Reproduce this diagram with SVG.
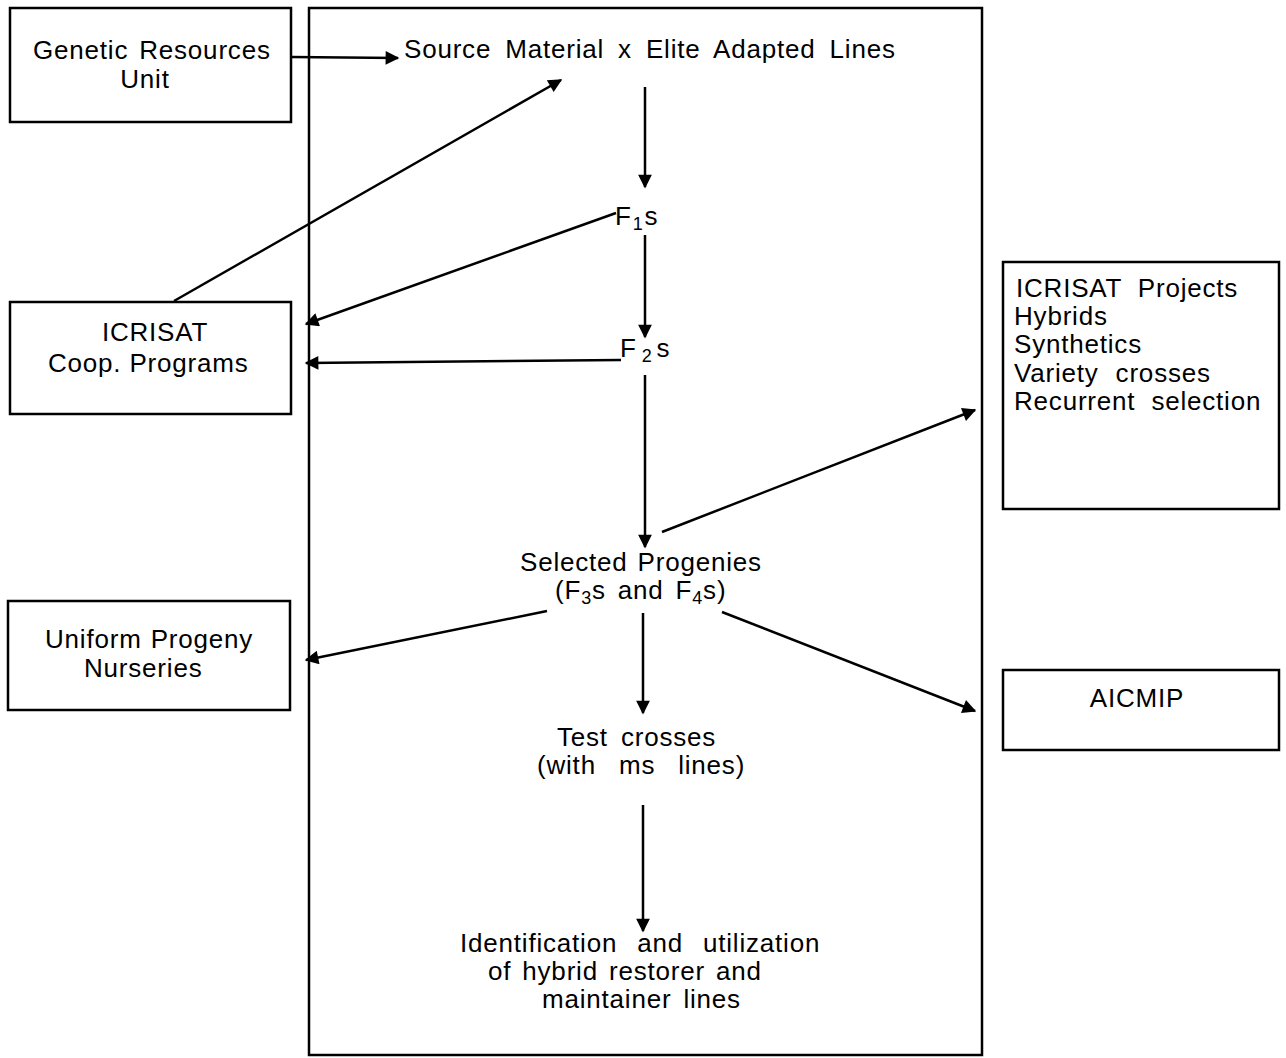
<svg xmlns="http://www.w3.org/2000/svg" width="1286" height="1058" viewBox="0 0 1286 1058">
<style>
.box{fill:none;stroke:#000;stroke-width:2.5}
.ln{fill:none;stroke:#000;stroke-width:2.5;marker-end:url(#ah)}
text{font-family:"Liberation Sans",Arial,sans-serif;font-size:26px;fill:#000;letter-spacing:0.8px}
.c{text-anchor:middle}
.sub{font-size:18px}
</style>
<defs>
<marker id="ah" viewBox="0 0 10 10" refX="9" refY="5" markerWidth="6.5" markerHeight="5.5" markerUnits="strokeWidth" orient="auto">
<path d="M0,0 L10,5 L0,10 Z" fill="#000"/>
</marker>
</defs>
<rect width="1286" height="1058" fill="#fff"/>
<g id="main-frame"><rect class="box" x="309" y="8" width="673" height="1047"/></g>
<g id="genetic"><rect class="box" x="10" y="8" width="281" height="114"/>
<text x="33" y="59" word-spacing="3">Genetic Resources</text><text class="c" x="145" y="88">Unit</text></g>
<g id="coop"><rect class="box" x="10" y="302" width="281" height="112"/>
<text class="c" x="155" y="341" letter-spacing="0" font-size="24">ICRISAT</text><text x="48" y="372">Coop. Programs</text></g>
<g id="uniform"><rect class="box" x="8" y="601" width="282" height="109"/>
<text x="45" y="648" word-spacing="1">Uniform Progeny</text><text x="84" y="677">Nurseries</text></g>
<g id="projects"><rect class="box" x="1003" y="262" width="276" height="247"/>
<text x="1016" y="297" word-spacing="8">ICRISAT Projects</text>
<text x="1014" y="325">Hybrids</text>
<text x="1014" y="353">Synthetics</text>
<text x="1014" y="382" word-spacing="9">Variety crosses</text>
<text x="1014" y="410" word-spacing="8">Recurrent selection</text></g>
<g id="aicmip"><rect class="box" x="1003" y="670" width="276" height="80"/>
<text class="c" x="1137" y="707">AICMIP</text></g>
<g id="source"><text x="404" y="58" word-spacing="6">Source Material x Elite Adapted Lines</text></g>
<g id="f1"><text x="615" y="225">F<tspan class="sub" dy="5" dx="1">1</tspan><tspan dy="-5" dx="1">s</tspan></text></g>
<g id="f2"><text x="620" y="357">F<tspan class="sub" dy="5" dx="5">2</tspan><tspan dy="-5" dx="4">s</tspan></text></g>
<g id="selected"><text x="520" y="571" word-spacing="2">Selected Progenies</text>
<text x="555" y="599" word-spacing="4">(F<tspan class="sub" dy="5">3</tspan><tspan dy="-5">s and F</tspan><tspan class="sub" dy="5">4</tspan><tspan dy="-5">s)</tspan></text></g>
<g id="test"><text x="557" y="746" word-spacing="5">Test crosses</text><text x="537" y="774" word-spacing="15">(with ms lines)</text></g>
<g id="ident"><text x="460" y="952" word-spacing="12">Identification and utilization</text><text x="488" y="980" word-spacing="3">of hybrid restorer and</text><text x="542" y="1008" word-spacing="4">maintainer lines</text></g>
<g id="connectors">
<line class="ln" x1="291" y1="57" x2="398" y2="58"/>
<line class="ln" x1="174" y1="301" x2="561" y2="80"/>
<line class="ln" x1="645" y1="87" x2="645" y2="187"/>
<line class="ln" x1="616" y1="213" x2="306" y2="324"/>
<line class="ln" x1="645" y1="235" x2="645" y2="337"/>
<line class="ln" x1="621" y1="360" x2="306" y2="363"/>
<line class="ln" x1="645" y1="375" x2="645" y2="547"/>
<line class="ln" x1="662" y1="532" x2="975" y2="410"/>
<line class="ln" x1="547" y1="611" x2="306" y2="660"/>
<line class="ln" x1="722" y1="612" x2="975" y2="711"/>
<line class="ln" x1="643" y1="613" x2="643" y2="713"/>
<line class="ln" x1="643" y1="805" x2="643" y2="931"/>
</g>
</svg>
